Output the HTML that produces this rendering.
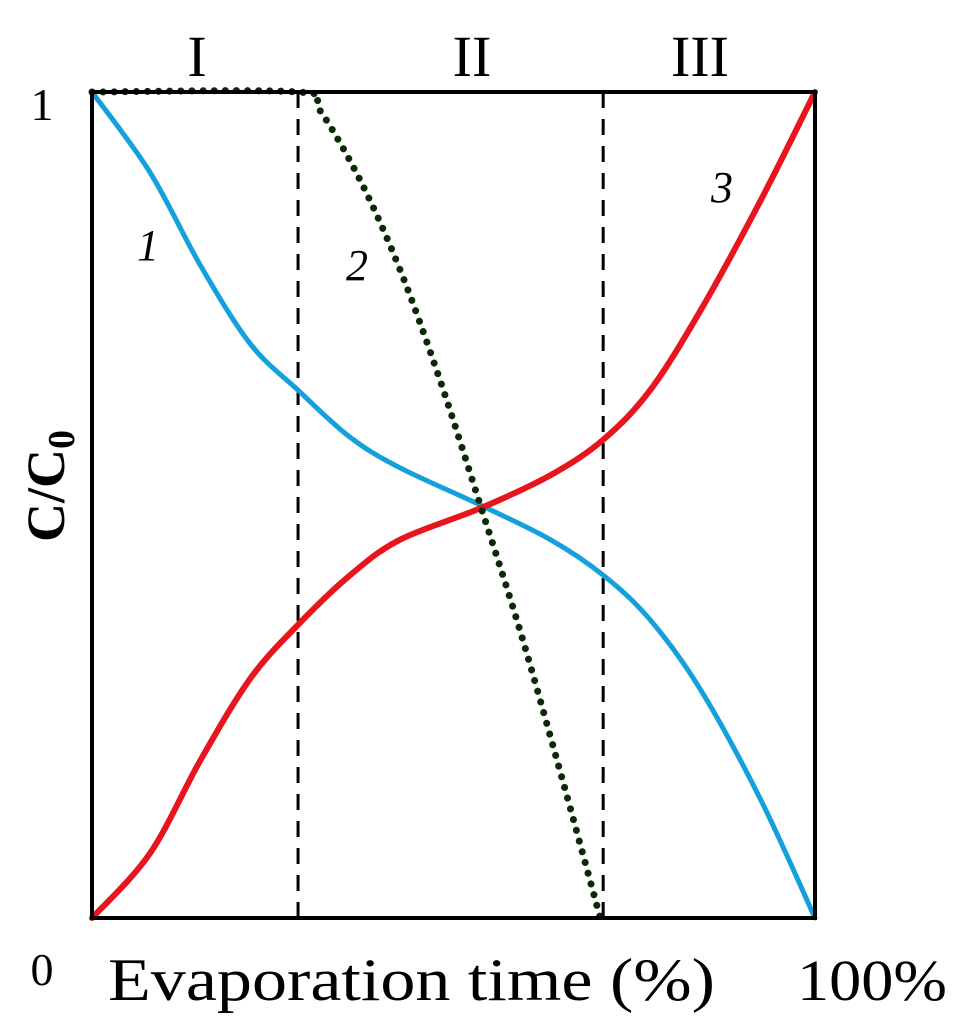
<!DOCTYPE html>
<html><head><meta charset="utf-8"><style>
html,body{margin:0;padding:0;background:#fff;}
svg{display:block;font-family:"Liberation Serif",serif;}
</style></head><body>
<svg id="chart" width="974" height="1024" viewBox="0 0 974 1024">
<g id="marks"></g>
<rect x="92" y="92" width="723" height="826" fill="none" stroke="#000" stroke-width="4"/>
<text x="197" y="76" font-size="58" text-anchor="middle">I</text>
<text x="472" y="76" font-size="58" text-anchor="middle">II</text>
<text x="700" y="76" font-size="58" text-anchor="middle">III</text>
<text x="42" y="120" font-size="46" text-anchor="middle">1</text>
<text x="42" y="985" font-size="46" text-anchor="middle">0</text>
<text x="108" y="1000" font-size="60" textLength="607" lengthAdjust="spacingAndGlyphs">Evaporation time (%)</text>
<text x="797" y="1000" font-size="58" textLength="150" lengthAdjust="spacingAndGlyphs">100%</text>
<text transform="translate(64,542) rotate(-90)" font-size="54" font-weight="bold">C/C<tspan font-size="38" dy="10">0</tspan></text>
<text x="148" y="260" font-size="44" font-style="italic" text-anchor="middle">1</text>
<text x="357" y="280" font-size="44" font-style="italic" text-anchor="middle">2</text>
<text x="722" y="202" font-size="44" font-style="italic" text-anchor="middle">3</text>
</svg>
<script>
const stageBounds = [28.5, 70.7];
const blueX = [0,8.0,15.0,21.9,28.5,35.7,42.6,53.7,63.4,70.7,77.2,84.2,92.5,100];
const blueY = [1,0.903,0.790,0.695,0.639,0.582,0.545,0.500,0.458,0.415,0.361,0.276,0.143,0];
const redX = [0,8.0,15.0,21.9,28.5,35.7,42.6,53.7,63.4,70.7,77.2,84.2,92.5,100];
const redY = [0,0.078,0.191,0.290,0.355,0.415,0.458,0.496,0.536,0.579,0.639,0.736,0.869,1];
const greenX = [0,28.5,31.5,37.1,42.6,48.1,53.7,59.2,64.7,70.3];
const greenY = [1,1,0.978,0.893,0.785,0.652,0.500,0.348,0.179,0];

const X0=92,X1=815,Y0=918,Y1=92;
const sx=v=>X0+(v/100)*(X1-X0);
const sy=v=>Y0-v*(Y0-Y1);
const NS="http://www.w3.org/2000/svg";
const g=document.getElementById('marks');
function smooth(xs,ys){
  const p=xs.map((x,i)=>[sx(x),sy(ys[i])]);
  let d=`M${p[0][0]},${p[0][1]}`;
  for(let i=0;i<p.length-1;i++){
    const a=p[Math.max(0,i-1)],b=p[i],c=p[i+1],e=p[Math.min(p.length-1,i+2)];
    const c1=[b[0]+(c[0]-a[0])/6,b[1]+(c[1]-a[1])/6];
    const c2=[c[0]-(e[0]-b[0])/6,c[1]-(e[1]-b[1])/6];
    d+=` C${c1[0]},${c1[1]} ${c2[0]},${c2[1]} ${c[0]},${c[1]}`;
  }
  return d;
}
stageBounds.forEach((b,i)=>{
  const l=document.createElementNS(NS,'line');
  l.setAttribute('x1',sx(b));l.setAttribute('x2',sx(b));
  l.setAttribute('y1',sy(1));l.setAttribute('y2',sy(0));
  l.setAttribute('stroke','#000');l.setAttribute('stroke-width','3');
  l.setAttribute('stroke-dasharray','16,11');
  
  
  g.appendChild(l);
});
function addPath(xs,ys,color,dash,w){
  const p=document.createElementNS(NS,'path');
  p.setAttribute('d',smooth(xs,ys));
  p.setAttribute('fill','none');p.setAttribute('stroke',color);
  p.setAttribute('stroke-width',w);p.setAttribute('stroke-linecap','round');
  if(dash)p.setAttribute('stroke-dasharray',dash);
  g.appendChild(p);
  return p;
}
const pb=addPath(blueX,blueY,'#14a0dc',null,5);


const pr=addPath(redX,redY,'#e8141e',null,6);


const pg=addPath(greenX,greenY,'#0a2a05','0.1,11',7);


</script>
</body></html>
